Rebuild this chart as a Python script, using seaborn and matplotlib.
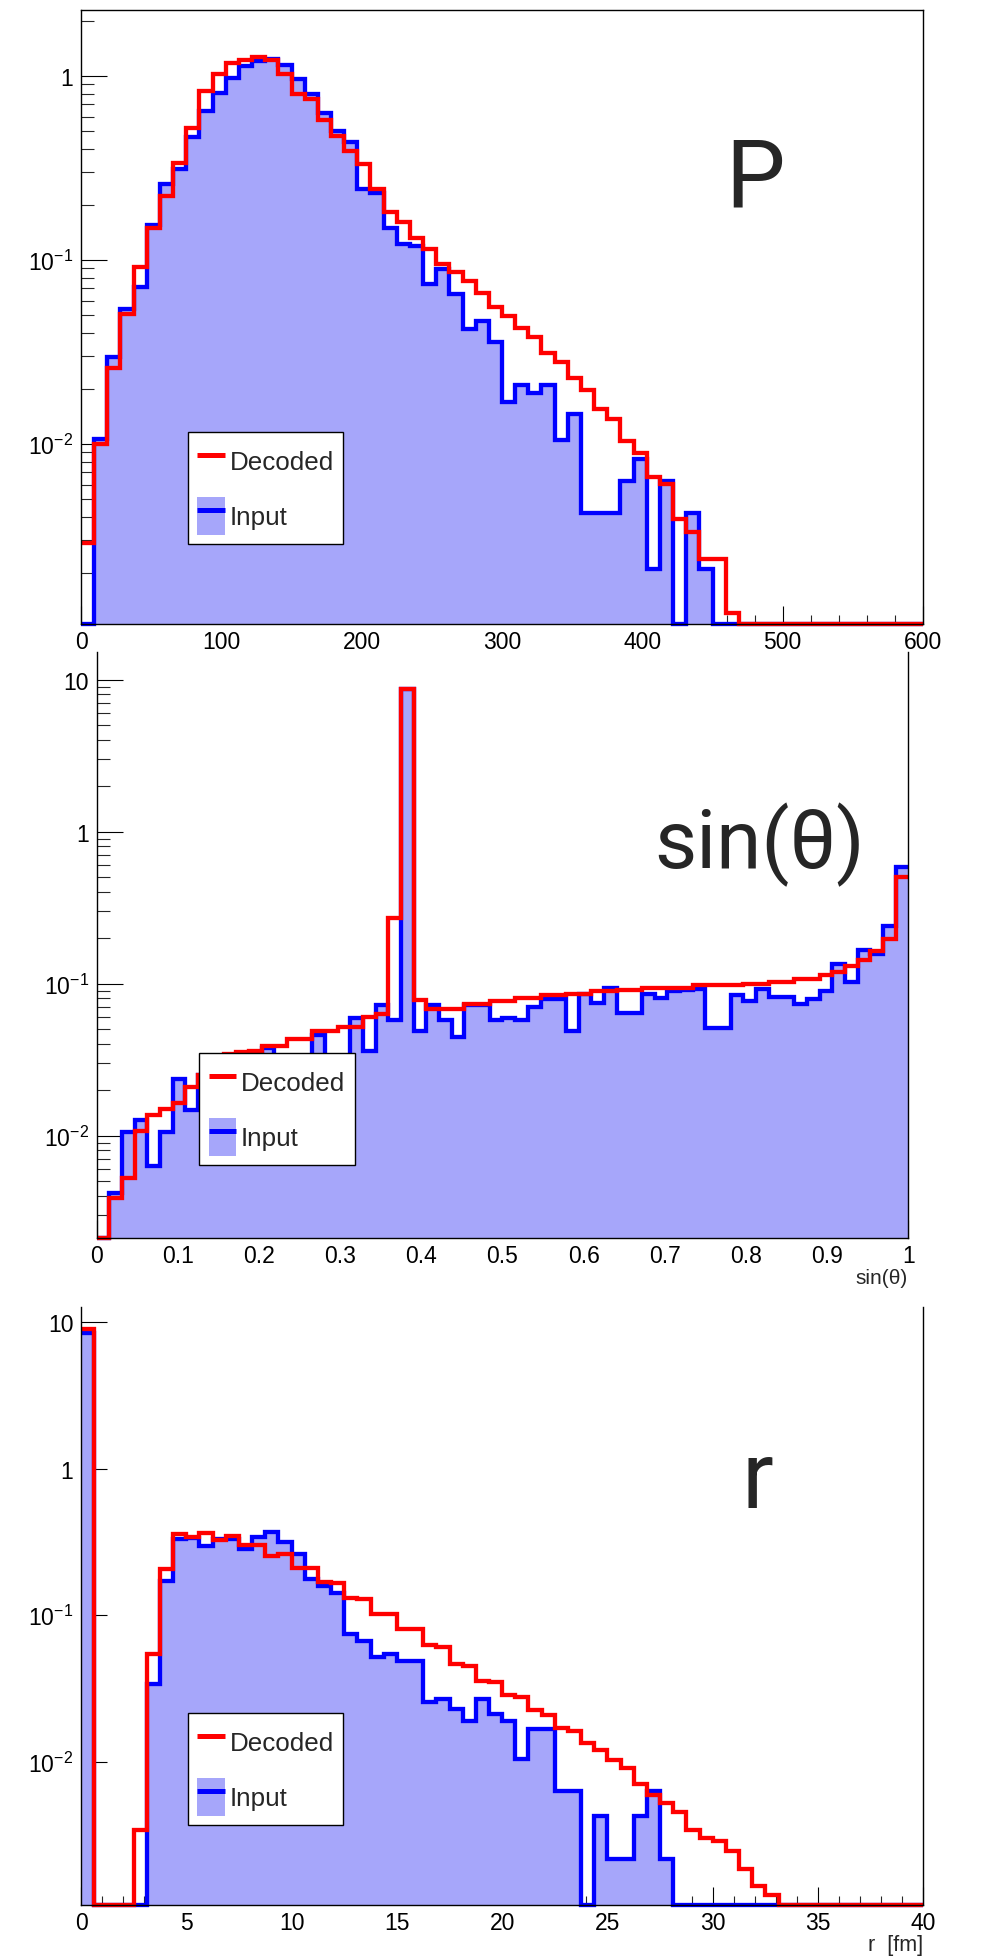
import numpy as np
import pandas as pd
import matplotlib
matplotlib.use("Agg")
import matplotlib.pyplot as plt
import seaborn as sns
from matplotlib.ticker import FixedLocator, FuncFormatter, LogLocator, NullFormatter, MultipleLocator
from matplotlib.lines import Line2D
from matplotlib.patches import Patch
from matplotlib.legend_handler import HandlerTuple

# ---------------- data (64 bins per histogram) ----------------
p_range = (0.0, 600.0)
p_decoded = [0.0029, 0.0100, 0.0258, 0.0507, 0.091, 0.150, 0.223, 0.336, 0.518, 0.829,
             1.02, 1.18, 1.22, 1.27, 1.22, 1.03, 0.80, 0.747, 0.577, 0.472,
             0.391, 0.331, 0.244, 0.181, 0.160, 0.132, 0.115, 0.0955, 0.086, 0.0769,
             0.0665, 0.0552, 0.0496, 0.0424, 0.0379, 0.031, 0.0279, 0.0228, 0.0197, 0.0154,
             0.0137, 0.0104, 0.0089, 0.00665, 0.00604, 0.0039, 0.00334, 0.00238, 0.00236, 0.0012,
             0, 0, 0, 0, 0, 0, 0, 0, 0, 0, 0, 0, 0, 0]
p_input = [0, 0.0106, 0.0297, 0.0544, 0.0708, 0.154, 0.258, 0.311, 0.466, 0.645,
           0.81, 0.98, 1.13, 1.21, 1.24, 1.15, 0.96, 0.795, 0.632, 0.499,
           0.435, 0.244, 0.232, 0.150, 0.122, 0.119, 0.0738, 0.0890, 0.065, 0.042,
           0.0466, 0.0356, 0.0168, 0.0208, 0.019, 0.0208, 0.0105, 0.0146, 0.0042, 0.0042,
           0.0042, 0.0063, 0.0083, 0.0021, 0.0063, 0, 0.0042, 0.0021, 0, 0,
           0, 0, 0, 0, 0, 0, 0, 0, 0, 0, 0, 0, 0, 0]

sin_range = (0.0, 1.0)
sin_decoded = [0, 0.00386, 0.0053, 0.0108, 0.0137, 0.015, 0.0164, 0.021, 0.025, 0.030,
               0.0345, 0.0355, 0.0358, 0.039, 0.039, 0.0435, 0.0435, 0.0489, 0.0489, 0.052,
               0.052, 0.060, 0.063, 0.27, 8.7, 0.0776, 0.0677, 0.068, 0.068, 0.073,
               0.073, 0.0768, 0.0768, 0.081, 0.081, 0.0838, 0.0838, 0.086, 0.086, 0.0895,
               0.0895, 0.0913, 0.0913, 0.093, 0.093, 0.094, 0.094, 0.0975, 0.0975, 0.0985,
               0.0985, 0.100, 0.100, 0.1025, 0.1025, 0.1068, 0.1068, 0.114, 0.119, 0.131,
               0.144, 0.163, 0.197, 0.50]
sin_input = [0, 0.0042, 0.0106, 0.0127, 0.00634, 0.0106, 0.0234, 0.0148, 0.025, 0.022,
             0.028, 0.026, 0.030, 0.0375, 0.028, 0.032, 0.030, 0.0457, 0.030, 0.027,
             0.0594, 0.0362, 0.0725, 0.0573, 8.7, 0.0485, 0.072, 0.0573, 0.0445, 0.072,
             0.072, 0.0573, 0.059, 0.0573, 0.070, 0.0788, 0.0788, 0.0485, 0.086, 0.0746,
             0.0936, 0.0645, 0.0645, 0.086, 0.0804, 0.090, 0.091, 0.092, 0.051, 0.051,
             0.0838, 0.0765, 0.0927, 0.0816, 0.0816, 0.0738, 0.0788, 0.0895, 0.135, 0.103,
             0.1675, 0.157, 0.239, 0.583]

r_range = (0.0, 40.0)
r_decoded = [9.0, 0, 0, 0, 0.00344, 0.0548, 0.208, 0.361, 0.345, 0.367,
             0.327, 0.348, 0.301, 0.301, 0.254, 0.261, 0.212, 0.212, 0.169, 0.167,
             0.1305, 0.130, 0.1016, 0.1016, 0.080, 0.080, 0.0624, 0.0603, 0.0468, 0.0452,
             0.0357, 0.0352, 0.0285, 0.0275, 0.0226, 0.0208, 0.0171, 0.0163, 0.0134, 0.0121,
             0.0102, 0.0090, 0.00705, 0.00593, 0.00523, 0.00452, 0.00344, 0.0030, 0.00289, 0.00247,
             0.00185, 0.00141, 0.00122, 0, 0, 0, 0, 0, 0, 0, 0, 0, 0, 0]
r_input = [8.5, 0, 0, 0, 0, 0.0339, 0.172, 0.334, 0.335, 0.298,
           0.33, 0.334, 0.282, 0.34, 0.373, 0.317, 0.261, 0.178, 0.158, 0.143,
           0.074, 0.0668, 0.0523, 0.0548, 0.0489, 0.0489, 0.0254, 0.027, 0.0229, 0.019,
           0.027, 0.0211, 0.019, 0.0105, 0.0167, 0.0167, 0.00634, 0.00634, 0, 0.00424,
           0.00215, 0.00215, 0.00424, 0.00634, 0.00215, 0, 0, 0, 0, 0,
           0, 0, 0, 0, 0, 0, 0, 0, 0, 0, 0, 0, 0, 0]

panel_labels = ["P", "sin(\u03b8)", "r"]
x_titles = ["", "sin(\u03b8)", "r  [fm]"]
legend_labels = ["Decoded", "Input"]

# ---------------- style ----------------
sns.set_theme(style="ticks")
plt.rcParams["font.family"] = ["Liberation Sans", "DejaVu Sans"]
plt.rcParams["mathtext.fontset"] = "custom"
plt.rcParams["mathtext.rm"] = "Liberation Sans"
plt.rcParams["mathtext.it"] = "Liberation Sans:italic"
plt.rcParams["mathtext.bf"] = "Liberation Sans:bold"

RED = "#ff0000"
BLUE = "#0000ff"
FILL = "#a6a6fa"
LW = 3.1

W, H = 985, 1958
fig = plt.figure(figsize=(W / 100, H / 100), dpi=100)


def frac_box(left, top, right, bottom):
    return [left / W, 1 - bottom / H, (right - left) / W, (bottom - top) / H]


ax1 = fig.add_axes(frac_box(81, 10.7, 923, 625))
ax2 = fig.add_axes(frac_box(96.7, 653, 908.3, 1239))
ax3 = fig.add_axes(frac_box(81, 1308.3, 923.3, 1906))


def yfmt(v, pos):
    e = int(round(np.log10(v)))
    if e == 0:
        return "1"
    if e == 1:
        return "10"
    return r"$\mathregular{10^{%d}}$" % e


def draw(ax, rng, decoded, inp, ylim, xmajor, xminor, xfmt, top_spine):
    edges = np.linspace(rng[0], rng[1], 65)
    centers = 0.5 * (edges[:-1] + edges[1:])
    ymin = ylim[0]
    b = np.where(np.asarray(inp) > 0, inp, ymin)
    r = np.where(np.asarray(decoded) > 0, decoded, ymin)
    df = pd.DataFrame({"x": centers, "inp": b, "dec": r})
    bins = [float(e) for e in edges]
    sns.histplot(data=df, x="x", weights="inp", bins=bins, element="step", fill=True,
                 color=FILL, alpha=1, linewidth=0, ax=ax)
    sns.histplot(data=df, x="x", weights="inp", bins=bins, element="step", fill=False,
                 color=BLUE, linewidth=LW, ax=ax, clip_on=False,
                 solid_joinstyle="miter", solid_capstyle="butt")
    sns.histplot(data=df, x="x", weights="dec", bins=bins, element="step", fill=False,
                 color=RED, linewidth=LW, ax=ax, clip_on=False,
                 solid_joinstyle="miter", solid_capstyle="butt")
    ax.set_yscale("log")
    ax.set_xlim(rng)
    ax.set_ylim(ylim)
    ax.set_xlabel("")
    ax.set_ylabel("")
    ax.yaxis.set_major_locator(FixedLocator([1e-3, 1e-2, 1e-1, 1, 10]))
    ax.yaxis.set_major_formatter(FuncFormatter(yfmt))
    ax.yaxis.set_minor_locator(LogLocator(base=10, subs=np.arange(2, 10), numticks=20))
    ax.yaxis.set_minor_formatter(NullFormatter())
    ax.xaxis.set_major_locator(MultipleLocator(xmajor))
    ax.xaxis.set_minor_locator(MultipleLocator(xminor))
    ax.xaxis.set_major_formatter(FuncFormatter(xfmt))
    ax.tick_params(axis="y", which="major", direction="in", length=18.5, width=0.8,
                   left=True, right=False, labelsize=16.5, pad=5.5, colors="black")
    ax.tick_params(axis="y", which="minor", direction="in", length=9.4, width=0.8,
                   left=True, right=False)
    ax.tick_params(axis="x", which="major", direction="in", length=13, width=0.8,
                   bottom=True, top=False, labelsize=16.5, pad=4.5, colors="black")
    ax.tick_params(axis="x", which="minor", direction="in", length=6.8, width=0.8,
                   bottom=True, top=False)
    for name, sp in ax.spines.items():
        sp.set_color("black")
        sp.set_linewidth(1.0)
        sp.set_visible(True)
    ax.spines["top"].set_visible(top_spine)
    ax.set_facecolor("white")
    ax.grid(False)


def fmt_int(v, pos):
    return "%d" % round(v)


def fmt_sin(v, pos):
    if abs(v) < 1e-9:
        return "0"
    if abs(v - 1) < 1e-9:
        return "1"
    return "%.1f" % v


draw(ax1, p_range, p_decoded, p_input, (1.05e-3, 2.29), 100, 20, fmt_int, True)
draw(ax2, sin_range, sin_decoded, sin_input, (2.12e-3, 15.2), 0.1, 0.02, fmt_sin, False)
draw(ax3, r_range, r_decoded, r_input, (1.05e-3, 12.7), 5, 1, fmt_int, False)

# legends
for ax, (lx, ly) in zip([ax1, ax2, ax3], [(187.7, 433.3), (199.3, 1054.3), (187.7, 1714.3)]):
    h_dec = Line2D([], [], color=RED, lw=3.6, solid_capstyle="butt")
    h_in = (Patch(facecolor=FILL, edgecolor="none"),
            Line2D([], [], color=BLUE, lw=3.6, solid_capstyle="butt"))
    leg = ax.legend([h_dec, h_in], legend_labels,
                    handler_map={tuple: HandlerTuple(ndivide=1, pad=0)},
                    loc="upper left", bbox_to_anchor=(lx / W, 1 - ly / H),
                    bbox_transform=fig.transFigure, fontsize=18.7,
                    frameon=True, fancybox=False, edgecolor="black", framealpha=1,
                    borderpad=0.36, handlelength=1.07, handleheight=1.877,
                    handletextpad=0.18, labelspacing=0.655, borderaxespad=0)
    leg.get_frame().set_linewidth(1.0)

# big panel labels
big_fam = ["Roboto", "Liberation Sans", "DejaVu Sans"]
fig.text(755 / W, 1 - 206.7 / H, panel_labels[0], fontsize=68, ha="center",
         va="baseline", family=big_fam, fontweight="normal")
fig.text(760 / W, 1 - 868 / H, panel_labels[1], fontsize=59, ha="center",
         va="baseline", family=big_fam, fontweight="normal")
fig.text(757 / W, 1 - 1508 / H, panel_labels[2], fontsize=68, ha="center",
         va="baseline", family=big_fam, fontweight="normal")

# axis titles
fig.text(908 / W, 1 - 1284 / H, x_titles[1], fontsize=15, ha="right", va="baseline")
fig.text(923 / W, 1 - 1951 / H, x_titles[2], fontsize=15.5, ha="right", va="baseline")

fig.savefig("out.png", dpi=100, facecolor="white")
